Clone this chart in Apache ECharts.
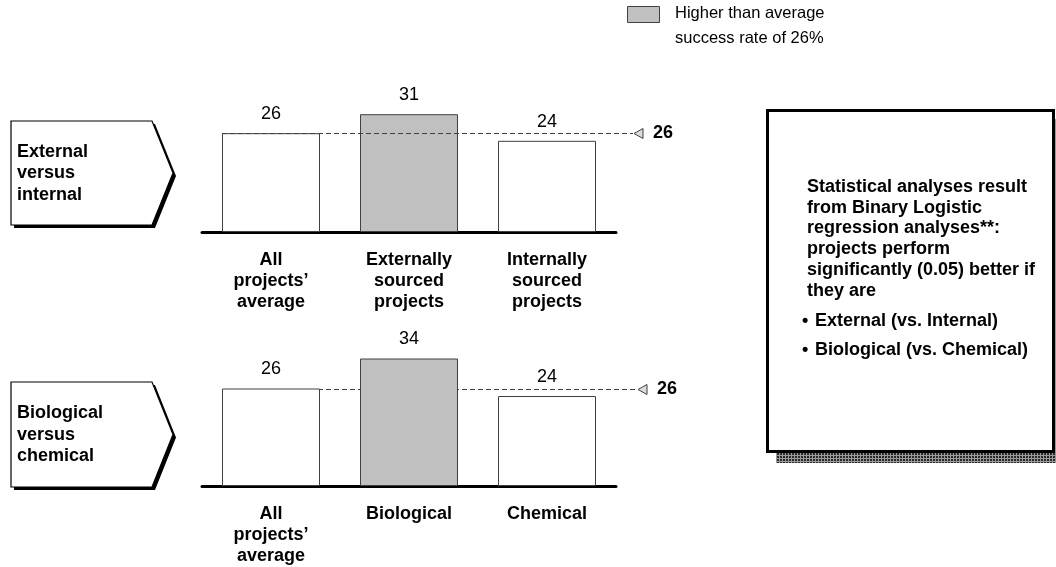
<!DOCTYPE html>
<html>
<head>
<meta charset="utf-8">
<script src="https://cdn.jsdelivr.net/npm/echarts@6/dist/echarts.min.js"></script>
<style>
  html, body { margin: 0; padding: 0; background: #fff; }
  #chart { width: 1056px; height: 567px; }
</style>
</head>
<body>
<div id="chart"></div>
<script>
// Project success rates (%) by group
const topCategories = ['All\nprojects’\naverage', 'Externally\nsourced\nprojects', 'Internally\nsourced\nprojects'];
const topValues = [26, 31, 24];
const bottomCategories = ['All\nprojects’\naverage', 'Biological', 'Chemical'];
const bottomValues = [26, 34, 24];
const averageRate = 26;

const panelTitles = ['External\nversus\ninternal', 'Biological\nversus\nchemical'];
const noteLines = [
  'Statistical analyses result',
  'from Binary Logistic',
  'regression analyses**:',
  'projects perform',
  'significantly (0.05) better if',
  'they are'
];
const noteBullets = ['External (vs. Internal)', 'Biological (vs. Chemical)'];

// Layout and style
const FONT = '"Liberation Sans", Arial, Helvetica, sans-serif';
const BAR_W = 98;
const GRAY = '#c0c0c0';
const EDGE = '#404040';

const chart = echarts.init(document.getElementById('chart'), null, { renderer: 'canvas' });

// Dithered texture for the note box shadow
function shadowPattern() {
  const c = document.createElement('canvas');
  c.width = 3; c.height = 3;
  const ctx = c.getContext('2d');
  ctx.fillStyle = '#2a2a2a';
  ctx.fillRect(0, 0, 3, 3);
  ctx.fillStyle = '#9a9a9a';
  ctx.fillRect(2, 0, 1, 3);
  ctx.fillRect(0, 2, 3, 1);
  return { image: c, repeat: 'repeat' };
}

// Average reference line: dashed rule, open triangle marker and bold value
function averageRenderer(tailOffset) {
  return function (params, api) {
    const cs = params.coordSys;
    const p = api.coord([api.value(0), api.value(1)]);
    const x0 = p[0] - BAR_W / 2;
    const x1 = cs.x + cs.width + tailOffset;
    const y = Math.round(p[1]) + 0.5;
    return {
      type: 'group',
      children: [
        { type: 'line', shape: { x1: x0, y1: y, x2: x1, y2: y },
          style: { stroke: EDGE, lineWidth: 1, lineDash: [5, 3] } },
        { type: 'polygon', shape: { points: [[x1 + 1, y], [x1 + 10, y - 5], [x1 + 10, y + 5]] },
          style: { fill: '#dcdcdc', stroke: EDGE, lineWidth: 1 } },
        { type: 'text', x: x1 + 20, y: y,
          style: { text: String(api.value(1)), font: 'bold 18px ' + FONT, fill: '#000',
                   align: 'left', verticalAlign: 'middle' } }
      ]
    };
  };
}

function barSeries(idx, values) {
  return {
    type: 'bar',
    xAxisIndex: idx,
    yAxisIndex: idx,
    barWidth: BAR_W,
    data: values,
    z: 2,
    itemStyle: {
      color: p => (p.value > averageRate ? GRAY : '#ffffff'),
      borderColor: EDGE,
      borderWidth: 1
    },
    label: {
      show: true,
      position: 'top',
      distance: 10,
      color: '#000',
      fontFamily: FONT,
      fontSize: 18
    },
    silent: true
  };
}

function xAxis(idx, cats) {
  return {
    type: 'category',
    gridIndex: idx,
    data: cats,
    axisLine: { show: true, lineStyle: { color: '#000', width: 3 } },
    axisTick: { show: false },
    splitLine: { show: false },
    axisLabel: {
      interval: 0,
      margin: 18,
      color: '#000',
      fontFamily: FONT,
      fontSize: 18,
      fontWeight: 'bold',
      lineHeight: 21,
      align: 'center',
      verticalAlign: 'top'
    }
  };
}

function yAxis(idx) {
  return { type: 'value', gridIndex: idx, min: 0, max: 40, show: false };
}

function panelArrow(top, bottom, title) {
  const left = 11, flat = 152, tip = 173;
  const mid = (top + bottom) / 2;
  const pts = [[left, top], [flat, top], [tip, mid], [flat, bottom], [left, bottom]];
  const shadow = pts.map(p => [p[0] + 3, p[1] + 3]);
  return [
    { type: 'polygon', shape: { points: shadow }, style: { fill: '#000' }, z: 10 },
    { type: 'polygon', shape: { points: pts }, style: { fill: '#fff', stroke: '#000', lineWidth: 1.2 }, z: 11 },
    { type: 'text', left: 17, top: mid - 32, z: 12,
      style: { text: title, font: 'bold 18px ' + FONT, fill: '#000', lineHeight: 21.5 } }
  ];
}

const graphics = [
  // Legend swatch and text
  { type: 'rect', shape: { x: 627.5, y: 6.5, width: 32, height: 16 },
    style: { fill: GRAY, stroke: EDGE, lineWidth: 1 } },
  { type: 'text', left: 675, top: 1,
    style: { text: 'Higher than average\nsuccess rate of ' + averageRate + '%', font: '16.5px ' + FONT,
             fill: '#000', lineHeight: 25 } },
  ...panelArrow(121, 225, panelTitles[0]),
  ...panelArrow(382, 487, panelTitles[1]),
  // Note box with textured drop shadow
  { type: 'rect', shape: { x: 776, y: 119, width: 300, height: 344 },
    style: { fill: shadowPattern() }, z: 10 },
  { type: 'rect', shape: { x: 767.5, y: 110.5, width: 286, height: 341 },
    style: { fill: '#fff', stroke: '#000', lineWidth: 3 }, z: 11 },
  { type: 'text', left: 807, top: 176.5, z: 12,
    style: { text: noteLines.join('\n'), font: 'bold 18px ' + FONT, fill: '#000', lineHeight: 20.8 } }
];
noteBullets.forEach((t, i) => {
  const y = 321 + i * 29;
  graphics.push({ type: 'text', x: 802, y: y, z: 12,
    style: { text: '•', font: 'bold 18px ' + FONT, fill: '#000', verticalAlign: 'middle' } });
  graphics.push({ type: 'text', x: 815, y: y, z: 12,
    style: { text: t, font: 'bold 18px ' + FONT, fill: '#000', verticalAlign: 'middle' } });
});

chart.setOption({
  animation: false,
  backgroundColor: '#fff',
  grid: [
    { left: 202, top: 80, width: 414, height: 152 },
    { left: 202, top: 336, width: 414, height: 152 }
  ],
  xAxis: [xAxis(0, topCategories), xAxis(1, bottomCategories)],
  yAxis: [yAxis(0), yAxis(1)],
  series: [
    barSeries(0, topValues),
    barSeries(1, bottomValues),
    { type: 'custom', xAxisIndex: 0, yAxisIndex: 0, data: [[0, averageRate]],
      renderItem: averageRenderer(17), z: 5, silent: true },
    { type: 'custom', xAxisIndex: 1, yAxisIndex: 1, data: [[0, averageRate]],
      renderItem: averageRenderer(21), z: 1, silent: true }
  ],
  graphic: graphics
});
</script>
</body>
</html>
